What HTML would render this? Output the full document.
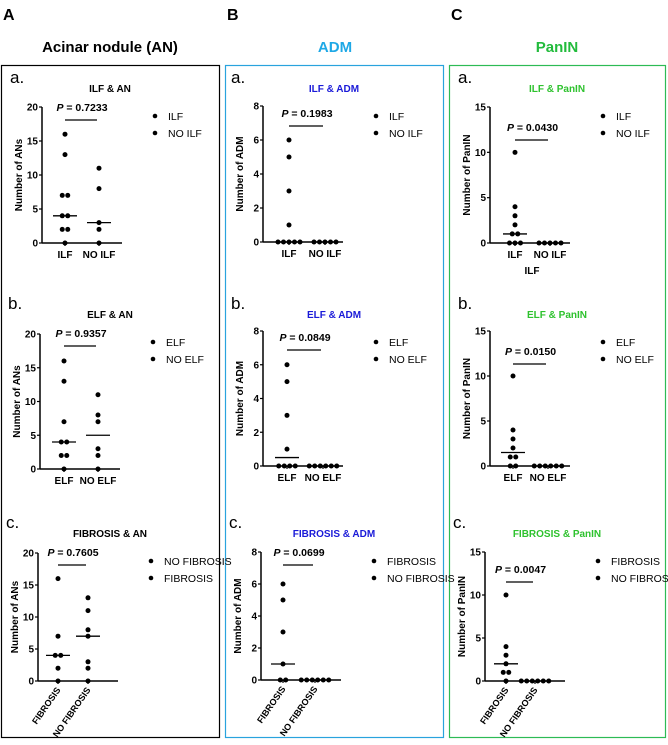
<!DOCTYPE html>
<html><head><meta charset="utf-8"><style>
body{margin:0;background:#fff;font-family:"Liberation Sans",Arial,sans-serif}
svg text{font-family:"Liberation Sans",Arial,sans-serif}
</style></head><body>
<svg id="fig" width="668" height="740" viewBox="0 0 668 740" xmlns="http://www.w3.org/2000/svg">
<text x="3" y="20" font-size="16" font-weight="bold">A</text>
<text x="227" y="20" font-size="16" font-weight="bold">B</text>
<text x="451" y="20" font-size="16" font-weight="bold">C</text>
<text x="110" y="52" font-size="15" font-weight="bold" text-anchor="middle">Acinar nodule (AN)</text>
<text x="335" y="52" font-size="15" font-weight="bold" text-anchor="middle" fill="#1ea8e6">ADM</text>
<text x="557" y="52" font-size="15" font-weight="bold" text-anchor="middle" fill="#22bb3c">PanIN</text>
<rect x="1.5" y="65.5" width="218" height="672" fill="none" stroke="#000" stroke-width="1.2"/>
<rect x="225.5" y="65.5" width="218" height="672" fill="none" stroke="#29a3dd" stroke-width="1.2"/>
<rect x="449.5" y="65.5" width="216" height="672" fill="none" stroke="#2dbb55" stroke-width="1.2"/>
</svg>
<script>
// ---- data ----
const anIlf=[16,13,7,7,4,4,2,2,0], anNoIlf=[11,8,3,2,0], anIlfMed=[4,3];
const anElf=[16,13,7,4,4,2,2,0], anNoElf=[11,8,7,3,2,0], anElfMed=[4,5];
const anFib=[16,7,4,4,2,0], anNoFib=[13,11,8,7,3,2,0], anFibMed=[4,7];
const admIlf=[6,5,3,1,0,0,0,0,0], admNoIlf=[0,0,0,0,0], admIlfMed=[0,0];
const admElf=[6,5,3,1,0,0,0,0], admNoElf=[0,0,0,0,0,0], admElfMed=[0.5,0];
const admFib=[6,5,3,1,0,0], admNoFib=[0,0,0,0,0,0], admFibMed=[1,0];
const panIlf=[10,4,3,2,1,1,0,0,0], panNoIlf=[0,0,0,0,0], panIlfMed=[1,0];
const panElf=[10,4,3,2,1,1,0,0], panNoElf=[0,0,0,0,0,0], panElfMed=[1.5,0];
const panFib=[10,4,3,2,1,1,0], panNoFib=[0,0,0,0,0,0], panFibMed=[2,0];
const anTicks=[0,5,10,15,20], admTicks=[0,2,4,6,8], panTicks=[0,5,10,15];
const NS='http://www.w3.org/2000/svg';
const svg=document.getElementById('fig');
function el(tag,attrs,parent){const e=document.createElementNS(NS,tag);for(const k in attrs)e.setAttribute(k,attrs[k]);(parent||svg).appendChild(e);return e;}
function txt(s,attrs,parent){const e=el('text',attrs,parent);e.textContent=s;return e;}
function plot(c){
  const g=el('g',{});
  
  
  const ymax=c.ticks[c.ticks.length-1];
  const ys=v=>c.y0-(v/ymax)*(c.y0-c.yTop);
  let t=txt(c.letter,{x:c.ox-32,y:c.titleY-9,'font-size':17});
  
  t=txt(c.title,{x:c.cx,y:c.titleY,'font-size':10,'font-weight':'bold','text-anchor':'middle',fill:c.tcol});
  
  let a=el('line',{x1:c.ox,y1:c.yTop,x2:c.ox,y2:c.y0,stroke:'#000','stroke-width':1.5},g);
  
  a=el('line',{x1:c.ox,y1:c.y0,x2:c.ox+80,y2:c.y0,stroke:'#000','stroke-width':1.5},g);
  
  c.ticks.forEach(v=>{
    el('line',{x1:c.ox-3,y1:ys(v),x2:c.ox,y2:ys(v),stroke:'#000','stroke-width':1.2},g);
    const tl=txt(String(v),{x:c.ox-4,y:ys(v)+3.5,'font-size':10,'font-weight':'bold','text-anchor':'end'},g);
    
  });
  const yl=txt(c.ylabel,{x:0,y:0,'font-size':10,'font-weight':'bold','text-anchor':'middle',transform:`translate(${c.ox-20},${(c.y0+c.yTop)/2}) rotate(-90)`},g);
  
  [c.d1,c.d2].forEach((d,i)=>{
    const gx=c.ox+c.gx[i];
    el('line',{x1:gx,y1:c.y0,x2:gx,y2:c.y0+3,stroke:'#000','stroke-width':1.2},g);
    const counts={};d.forEach(v=>counts[v]=(counts[v]||0)+1);
    const seen={};
    d.forEach(v=>{
      const n=counts[v];const k=seen[v]=(seen[v]||0);seen[v]++;
      const dx=(k-(n-1)/2)*5.5;
      const p=el('circle',{cx:gx+dx,cy:ys(v),r:2.5,fill:'#000'},g);
      
    });
    const m=el('line',{x1:gx-12,y1:ys(c.med[i]),x2:gx+12,y2:ys(c.med[i]),stroke:'#000','stroke-width':1.3},g);
    
    let lab;
    if(c.rot){lab=txt(c.cats[i],{x:0,y:0,'font-size':9,'font-weight':'bold','text-anchor':'end',transform:`translate(${gx+3},${c.y0+9}) rotate(-55)`},g);}
    else lab=txt(c.cats[i],{x:gx,y:c.y0+15,'font-size':10,'font-weight':'bold','text-anchor':'middle'},g);
    
  });
  const pt=el('text',{x:(c.ox+c.gx[0]+c.ox+c.gx[1])/2,y:c.pY,'font-size':10.5,'font-weight':'bold','text-anchor':'middle'},g);
  pt.innerHTML='<tspan font-style="italic">P</tspan> = '+c.p;
  
  el('line',{x1:c.ox+c.gx[0],y1:c.pY+9,x2:c.ox+c.gx[1]-2,y2:c.pY+9,stroke:'#000','stroke-width':1.3},g);
  c.leg.forEach((s,i)=>{
    const ly=c.legY+i*17;
    const lg=el('g',{},g);
    
    el('circle',{cx:c.ox+113,cy:ly,r:2.3,fill:'#000'},lg);
    txt(s,{x:c.ox+126,y:ly+4,'font-size':10.5},lg);
  });
  if(c.xt){const x=txt(c.xt,{x:c.ox+42,y:c.y0+31,'font-size':10,'font-weight':'bold','text-anchor':'middle'},g);
    }
}
const blue='#1a1ad8', green='#2ec22e';
plot({name:'plot-ilf-an',letter:'a.',title:'ILF & AN',tcol:'#000',cx:110,ox:42,y0:243,yTop:107,titleY:92,ticks:anTicks,d1:anIlf,d2:anNoIlf,med:anIlfMed,gx:[23,57],cats:['ILF','NO ILF'],ylabel:'Number of ANs',p:'0.7233',pY:111,leg:['ILF','NO ILF'],legY:116});
plot({name:'plot-elf-an',letter:'b.',title:'ELF & AN',tcol:'#000',cx:110,ox:40,y0:469,yTop:334,titleY:318,ticks:anTicks,d1:anElf,d2:anNoElf,med:anElfMed,gx:[24,58],cats:['ELF','NO ELF'],ylabel:'Number of ANs',p:'0.9357',pY:337,leg:['ELF','NO ELF'],legY:342});
plot({name:'plot-fibrosis-an',letter:'c.',title:'FIBROSIS & AN',tcol:'#000',cx:110,ox:38,y0:681,yTop:553,titleY:537,ticks:anTicks,d1:anFib,d2:anNoFib,med:anFibMed,gx:[20,50],cats:['FIBROSIS','NO FIBROSIS'],ylabel:'Number of ANs',p:'0.7605',pY:556,leg:['NO FIBROSIS','FIBROSIS'],legY:561,rot:true});
plot({name:'plot-ilf-adm',letter:'a.',title:'ILF & ADM',tcol:blue,cx:334,ox:263,y0:242,yTop:106,titleY:92,ticks:admTicks,d1:admIlf,d2:admNoIlf,med:admIlfMed,gx:[26,62],cats:['ILF','NO ILF'],ylabel:'Number of ADM',p:'0.1983',pY:117,leg:['ILF','NO ILF'],legY:116});
plot({name:'plot-elf-adm',letter:'b.',title:'ELF & ADM',tcol:blue,cx:334,ox:263,y0:466,yTop:331,titleY:318,ticks:admTicks,d1:admElf,d2:admNoElf,med:admElfMed,gx:[24,60],cats:['ELF','NO ELF'],ylabel:'Number of ADM',p:'0.0849',pY:341,leg:['ELF','NO ELF'],legY:342});
plot({name:'plot-fibrosis-adm',letter:'c.',title:'FIBROSIS & ADM',tcol:blue,cx:334,ox:261,y0:680,yTop:552,titleY:537,ticks:admTicks,d1:admFib,d2:admNoFib,med:admFibMed,gx:[22,54],cats:['FIBROSIS','NO FIBROSIS'],ylabel:'Number of ADM',p:'0.0699',pY:556,leg:['FIBROSIS','NO FIBROSIS'],legY:561,rot:true});
plot({name:'plot-ilf-panin',letter:'a.',title:'ILF & PanIN',tcol:green,cx:557,ox:490,y0:243,yTop:107,titleY:92,ticks:panTicks,d1:panIlf,d2:panNoIlf,med:panIlfMed,gx:[25,60],cats:['ILF','NO ILF'],ylabel:'Number of PanIN',p:'0.0430',pY:131,leg:['ILF','NO ILF'],legY:116,xt:'ILF'});
plot({name:'plot-elf-panin',letter:'b.',title:'ELF & PanIN',tcol:green,cx:557,ox:490,y0:466,yTop:331,titleY:318,ticks:panTicks,d1:panElf,d2:panNoElf,med:panElfMed,gx:[23,58],cats:['ELF','NO ELF'],ylabel:'Number of PanIN',p:'0.0150',pY:355,leg:['ELF','NO ELF'],legY:342});
plot({name:'plot-fibrosis-panin',letter:'c.',title:'FIBROSIS & PanIN',tcol:green,cx:557,ox:485,y0:681,yTop:552,titleY:537,ticks:panTicks,d1:panFib,d2:panNoFib,med:panFibMed,gx:[21,50],cats:['FIBROSIS','NO FIBROSIS'],ylabel:'Number of PanIN',p:'0.0047',pY:573,leg:['FIBROSIS','NO FIBROSIS'],legY:561,rot:true});
</script>
</body></html>
